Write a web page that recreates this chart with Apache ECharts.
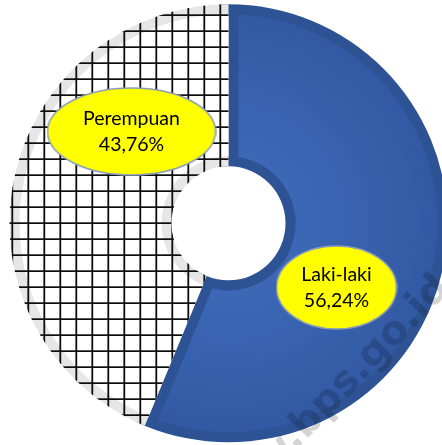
<!DOCTYPE html>
<html>
<head>
<meta charset="utf-8">
<script src="https://cdn.jsdelivr.net/npm/echarts@6/dist/echarts.min.js"></script>
<style>
  html, body { margin: 0; padding: 0; background: #ffffff; }
  #chart { width: 442px; height: 445px; }
</style>
</head>
<body>
<div id="chart"></div>
<script>
// Population by sex (percent)
const categories = ['Laki-laki', 'Perempuan'];
const shares = [56.24, 43.76];
const watermarkText = 'www.bps.go.id';

// Ring geometry (px)
const CX = 228.5, CY = 223.3;
const R_OUT = 219, R_IN = 57, BAND = 10;

// Fill colours per slice
const edgeColors = ['#2e5395', '#e6e6e6'];
const faceColors = [
  {
    type: 'radial', x: CX, y: CY, r: R_OUT, global: true,
    colorStops: [
      { offset: 0.25, color: '#3d69b8' },
      { offset: 0.6, color: '#3862ae' },
      { offset: 1, color: '#3158a2' }
    ]
  },
  '#ffffff'
];

// Square grid hatch used on the second slice
function gridTile() {
  const c = document.createElement('canvas');
  c.width = 16; c.height = 16;
  const g = c.getContext('2d');
  g.fillStyle = '#0d0d0d';
  g.fillRect(11.4, 0, 1.8, 16);
  g.fillRect(0, 14.3, 16, 1.8);
  return c;
}

// Yellow oval behind each value label
function ovalImage(w, h) {
  const c = document.createElement('canvas');
  c.width = w; c.height = h;
  const g = c.getContext('2d');
  g.beginPath();
  g.ellipse(w / 2, h / 2, w / 2 - 1, h / 2 - 1, 0, 0, Math.PI * 2);
  g.fillStyle = '#ffff00';
  g.fill();
  g.lineWidth = 1.5;
  g.strokeStyle = '#8a9cb8';
  g.stroke();
  return c;
}

const badgeStyle = [
  { w: 122, h: 85, pad: [17, 0, 17, 0], at: [336.5, 287.5] },
  { w: 170, h: 89, pad: [20, 0, 18, 0], at: [131.5, 131.5] }
];

const fmtPct = v => v.toFixed(2).replace('.', ',') + '%';

const common = {
  type: 'pie',
  center: [CX, CY],
  startAngle: 90,
  clockwise: true,
  silent: true,
  animation: false,
  avoidLabelOverlap: false,
  label: { show: false },
  labelLine: { show: false },
  emphasis: { disabled: true }
};
const pieLayer = extra => Object.assign({}, common, extra);
const itemsWith = styleFn => categories.map((name, i) => ({
  name, value: shares[i], itemStyle: styleFn(i)
}));

const tile = gridTile();

const option = {
  backgroundColor: '#ffffff',
  series: [
    // slice 1 with a thick inner edge band (stroke straddles the outline)
    pieLayer({
      name: 'male-face', z: 1, radius: [R_IN, R_OUT],
      data: itemsWith(i => i === 0
        ? { color: faceColors[0], borderColor: edgeColors[0], borderWidth: BAND * 2, borderJoin: 'round' }
        : { color: 'transparent', borderWidth: 0 })
    }),
    // slice 2 base (edge tone) covers the band spill from slice 1
    pieLayer({
      name: 'female-edge', z: 2, radius: [R_IN, R_OUT],
      data: itemsWith(i => i === 1
        ? { color: edgeColors[1], borderWidth: 0 }
        : { color: 'transparent', borderWidth: 0 })
    }),
    // slice 2 face
    pieLayer({
      name: 'female-face', z: 3, radius: [R_IN + BAND, R_OUT - BAND],
      data: itemsWith(i => i === 1
        ? { color: faceColors[1], borderWidth: 0 }
        : { color: 'transparent', borderWidth: 0 })
    }),
    // white mask outside the ring
    pieLayer({
      name: 'outer-mask', z: 4, radius: [R_OUT, 900],
      data: [{ value: 1, itemStyle: { color: '#ffffff', borderWidth: 0 } }]
    }),
    // white hole
    pieLayer({
      name: 'hole', z: 4, radius: [0, R_IN],
      data: [{ value: 1, itemStyle: { color: '#ffffff', borderWidth: 0 } }]
    }),
    // grid hatch + value labels
    pieLayer({
      name: 'hatch', z: 5, radius: [R_IN, R_OUT],
      label: {
        show: true,
        position: 'inside',
        color: '#000000',
        fontFamily: 'Lato',
        fontSize: 19.5,
        lineHeight: 25.5,
        align: 'center',
        formatter: p => p.name + '\n' + fmtPct(p.value)
      },
      labelLayout: p => {
        const b = badgeStyle[p.dataIndex];
        return { x: b.at[0], y: b.at[1], align: 'center', verticalAlign: 'middle' };
      },
      data: categories.map((name, i) => ({
        name,
        value: shares[i],
        itemStyle: i === 1
          ? { color: { image: tile, repeat: 'repeat' }, borderWidth: 0 }
          : { color: 'transparent', borderWidth: 0 },
        label: {
          width: badgeStyle[i].w,
          padding: badgeStyle[i].pad,
          backgroundColor: { image: ovalImage(badgeStyle[i].w, badgeStyle[i].h) }
        }
      }))
    })
  ],
  graphic: [{
    type: 'text',
    x: 444,
    y: 282,
    rotation: 46 * Math.PI / 180,
    z: 100,
    silent: true,
    style: {
      text: watermarkText,
      font: 'bold 40px "DejaVu Sans"',
      fill: 'rgba(0,0,0,0.17)',
      align: 'right',
      verticalAlign: 'middle'
    }
  }]
};

const chart = echarts.init(document.getElementById('chart'), null, { renderer: 'canvas' });
chart.setOption(option);
</script>
</body>
</html>
